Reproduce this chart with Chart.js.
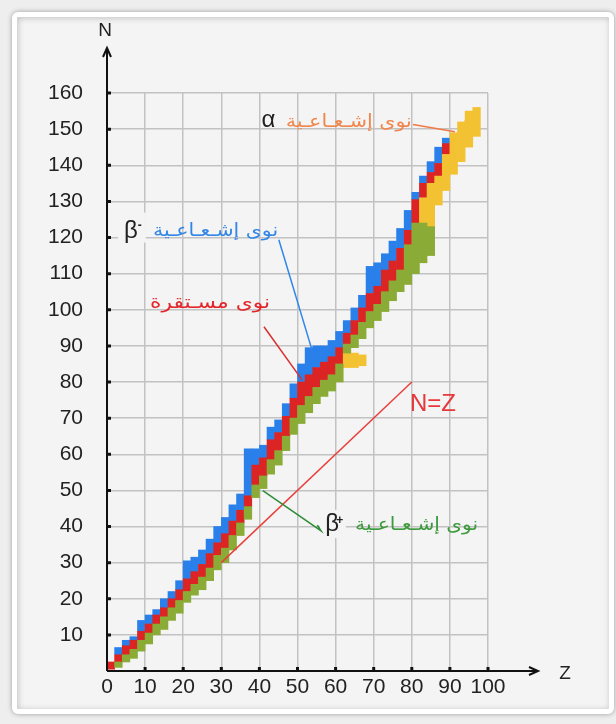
<!DOCTYPE html>
<html>
<head>
<meta charset="utf-8">
<script src="https://cdn.jsdelivr.net/npm/chart.js@4.4.1/dist/chart.umd.min.js"></script>
<style>
html,body{margin:0;padding:0;background:#eeeeee;}
#wrap{position:relative;width:616px;height:724px;overflow:hidden;}
.frame{position:absolute;left:12px;top:12px;width:592px;height:692px;border:5px solid #fff;border-radius:6px;background:#f4f4f4;
  box-shadow:0 0 5px rgba(0,0,0,.35), inset 1px 1px 6px rgba(0,0,0,.22);}
canvas{position:absolute;left:0;top:0;}
</style>
</head>
<body>
<div id="wrap"><div class="frame"></div><canvas id="chart" width="616" height="724"></canvas></div>
<script>
// columns of the chart, 2 protons wide, centred on these Z values
const zCols   = [1,3,5,7,9,11,13,15,17,19,21,23,25,27,29,31,33,35,37,39,41,43,45,47,49,51,53,55,57,59,61,63,65,67,69,71,73,75,77,79,81,83,85,87,89,91,93,95,97];
// β+ emitters (green): N range per column
const greenLo = [null,1,2.5,3.5,5.5,7.5,10,11.5,14,16,19,21,22.5,25,28,30,33.5,37.5,42,48,50.5,54.5,57,61,65.5,68.5,71.5,74,76,77.5,80,88,89.5,92,95,97,99.5,102.5,105,107,110,113,115,null,null,null,null,null,null];
const greenHi = [null,2.5,4.5,6,8.5,10.5,13,15,17.5,19.5,22,24,26,28.5,32,34,37.5,41,45.5,51.5,54,58.5,61,65,70,73.5,76,78.5,80.5,82,85,90.5,93,96.5,99.5,101.5,105,108,111,118,124,124,123,null,null,null,null,null,null];
// stable nuclei (red)
const redLo   = [0.5,2.5,4.5,6,8.5,10.5,13,15,17.5,19.5,22,24,26,28.5,32,34,37.5,41,45.5,51.5,54,58.5,61,65,70,73.5,76,78.5,80.5,82,85,90.5,93,96.5,99.5,101.5,105,108,111,118,124,131,135,137,143,null,null,151,null];
const redHi   = [2.5,4.5,7,8.5,11,13,15.5,17.5,20,22.5,25.5,27.5,29.5,32.5,35.5,38,41.5,44.5,48.5,57,59,64,66,70.5,75.5,80,82,84,85.5,87,89.5,93.5,97,100.5,104.5,106.5,111,113.5,117,122,130.5,135,138,140.5,146,null,null,152.5,null];
// β- emitters (blue)
const blueLo  = [null,4.5,7,8.5,11,13,15.5,17.5,20,22.5,25.5,27.5,29.5,32.5,35.5,38,41.5,44.5,48.5,57,59,64,66,70.5,75.5,80,82,84,85.5,87,89.5,93.5,97,100.5,104.5,106.5,111,113.5,117,122,130.5,135,138,140.5,146,null,null,null,null];
const blueHi  = [null,6.5,8.5,9.5,14,15.5,17,20,22,25,30.5,31.5,33.5,36.5,40,42.5,46,49,61.5,61.5,62.5,67.5,69.5,74,79.5,85,89.5,90,90,91.5,94,97,100.5,104,112,113,115.5,119,122.5,127.5,132.5,137,141,145,147.5,null,null,null,null];
// α emitters (yellow)
const yellowZ  = [63,65,67,83,85,87,89,91,93,95,97];
const yellowLo = [84,84,84.5,124,123,129,133,137.5,141,145,148];
const yellowHi = [88,88,87.5,131,135,137,143,149,152,155,156];

const zTicks = [0,10,20,30,40,50,60,70,80,90,100];
const nTicks = [0,10,20,30,40,50,60,70,80,90,100,110,120,130,140,150,160];

const AR_FONT = '"DejaVu Sans", sans-serif';
const LAT_FONT = '"Liberation Sans", Arial, sans-serif';

function bars(zs, lo, hi) {
  const out = [];
  zs.forEach((z, i) => { if (lo[i] != null) out.push({ x: z, y: [lo[i], hi[i]] }); });
  return out;
}
function ds(label, data, color) {
  return { label, data, backgroundColor: color, borderWidth: 0, grouped: false,
           barPercentage: 1, categoryPercentage: 1 };
}

// text labels and leader lines, placed in (Z, N)
const notes = [
  { text: 'نوى إشـعـاعـية', color: '#f0864c', z: 80, n: 150.6, w: 126,
    lead: [[80.3, 151.3], [91.3, 149.3]], leadColor: '#f07a46' },
  { text: 'نوى إشـعـاعـية', color: '#3386e6', z: 44.9, n: 120.4, w: 125,
    lead: [[45.1, 119.4], [53.8, 88.9]], leadColor: '#2f86ea' },
  { text: 'نوى مسـتقرة', color: '#e3262a', z: 42.8, n: 100.4, w: 120,
    lead: [[41.2, 95.3], [51.2, 80.6]], leadColor: '#d8302f' },
  { text: 'نوى إشـعـاعـية', color: '#3c9a3c', z: 97.4, n: 38.9, w: 123,
    lead: [[40.9, 49.9], [56.2, 38.8], [55.2, 40.4]], leadColor: '#2e8c38' }
];
const greek = [
  { ch: 'α', sup: '', z: 42.4, n: 150.6, mask: null },
  { ch: 'β', sup: '-', z: 6.3, n: 120, supZ: 8.6, supN: 123.2, mask: [2.9, 10.2, 118.6, 126.9] },
  { ch: 'β', sup: '+', z: 59.1, n: 38.8, supZ: 61.1, supN: 41.6, mask: [55.9, 62.7, 36.8, 44.6] }
];

const decor = {
  id: 'decor',
  afterDatasetsDraw(chart) {
    const { ctx, chartArea: a, scales: { x, y } } = chart;
    const px = v => x.getPixelForValue(v), py = v => y.getPixelForValue(v);
    ctx.save();

    // N = Z line
    ctx.strokeStyle = '#e8403c'; ctx.lineWidth = 1.5;
    ctx.beginPath(); ctx.moveTo(px(30), py(30)); ctx.lineTo(px(80), py(80)); ctx.stroke();
    ctx.fillStyle = '#e8383a'; ctx.font = '24px ' + LAT_FONT;
    ctx.textAlign = 'left'; ctx.textBaseline = 'middle';
    ctx.fillText('N=Z', px(79.5), py(73.7));

    // greek symbols
    greek.forEach(g => {
      if (g.mask) {
        ctx.fillStyle = '#f4f4f4';
        ctx.fillRect(px(g.mask[0]), py(g.mask[3]), px(g.mask[1]) - px(g.mask[0]), py(g.mask[2]) - py(g.mask[3]));
      }
      ctx.fillStyle = '#222'; ctx.font = '24px ' + LAT_FONT;
      ctx.textAlign = 'center'; ctx.textBaseline = 'alphabetic';
      ctx.fillText(g.ch, px(g.z), py(g.n));
      if (g.sup) {
        ctx.font = 'bold 12px ' + LAT_FONT; ctx.textBaseline = 'middle';
        ctx.fillText(g.sup, px(g.supZ), py(g.supN));
      }
    });

    // arabic labels and leaders
    notes.forEach(t => {
      ctx.strokeStyle = t.leadColor; ctx.lineWidth = 1.5;
      ctx.beginPath();
      t.lead.forEach((p, i) => i ? ctx.lineTo(px(p[0]), py(p[1])) : ctx.moveTo(px(p[0]), py(p[1])));
      ctx.stroke();
      ctx.font = '18px ' + AR_FONT; ctx.direction = 'rtl';
      ctx.textAlign = 'right'; ctx.textBaseline = 'alphabetic';
      const w = ctx.measureText(t.text).width;
      ctx.save();
      ctx.translate(px(t.z), py(t.n)); ctx.scale(t.w / w, 1);
      ctx.fillStyle = t.color; ctx.fillText(t.text, 0, 0);
      ctx.restore();
    });
    ctx.direction = 'ltr';

    // axes with arrows and inner tick marks
    ctx.strokeStyle = '#111'; ctx.fillStyle = '#111'; ctx.lineWidth = 2;
    const yTip = a.top - 45, xTip = a.right + 50;
    ctx.beginPath();
    ctx.moveTo(a.left, a.bottom); ctx.lineTo(a.left, yTip);
    ctx.moveTo(a.left - 4, yTip + 9); ctx.lineTo(a.left, yTip); ctx.lineTo(a.left + 4, yTip + 9);
    ctx.moveTo(a.left, a.bottom); ctx.lineTo(xTip, a.bottom);
    ctx.moveTo(xTip - 9, a.bottom - 4); ctx.lineTo(xTip, a.bottom); ctx.lineTo(xTip - 9, a.bottom + 4);
    ctx.stroke();
    ctx.lineWidth = 3;
    ctx.beginPath();
    nTicks.forEach(v => { if (v) { ctx.moveTo(a.left, py(v)); ctx.lineTo(a.left + 4, py(v)); } });
    zTicks.forEach(v => { if (v) { ctx.moveTo(px(v), a.bottom); ctx.lineTo(px(v), a.bottom - 4); } });
    ctx.stroke();

    ctx.fillStyle = '#222'; ctx.font = '19px ' + LAT_FONT;
    ctx.textAlign = 'center'; ctx.textBaseline = 'middle';
    ctx.fillText('N', a.left - 2, a.top - 62);
    ctx.fillText('Z', a.right + 77, a.bottom + 3);
    ctx.restore();
  }
};

new Chart(document.getElementById('chart'), {
  type: 'bar',
  data: {
    datasets: [
      ds('β+', bars(zCols, greenLo, greenHi), '#8aab35'),
      ds('α', bars(yellowZ, yellowLo, yellowHi), '#f3c233'),
      ds('stable', bars(zCols, redLo, redHi), '#dc2424'),
      ds('β-', bars(zCols, blueLo, blueHi), '#2a80ea')
    ]
  },
  options: {
    responsive: false, animation: false, devicePixelRatio: 1,
    layout: { padding: { left: 47, right: 128, top: 93, bottom: 0 } },
    plugins: { legend: { display: false }, tooltip: { enabled: false } },
    scales: {
      x: {
        type: 'linear', min: 0, max: 100, offset: false,
        afterFit: s => { s.height = 53; },
        afterBuildTicks: s => { s.ticks = zTicks.map(v => ({ value: v })); },
        grid: { color: '#c2c2c2', lineWidth: 1.5, drawTicks: false, offset: false },
        border: { display: false },
        ticks: { autoSkip: false, maxRotation: 0, padding: 4, color: '#222', font: { family: LAT_FONT, size: 21 } }
      },
      y: {
        type: 'linear', min: 0, max: 160,
        afterFit: s => { s.width = 60; },
        afterBuildTicks: s => { s.ticks = nTicks.map(v => ({ value: v })); },
        grid: { color: '#c2c2c2', lineWidth: 1.5, drawTicks: false },
        border: { display: false },
        ticks: { autoSkip: false, padding: 24, color: '#222', font: { family: LAT_FONT, size: 21 },
                 callback: v => v === 0 ? '' : v }
      }
    }
  },
  plugins: [decor]
});
</script>
</body>
</html>
